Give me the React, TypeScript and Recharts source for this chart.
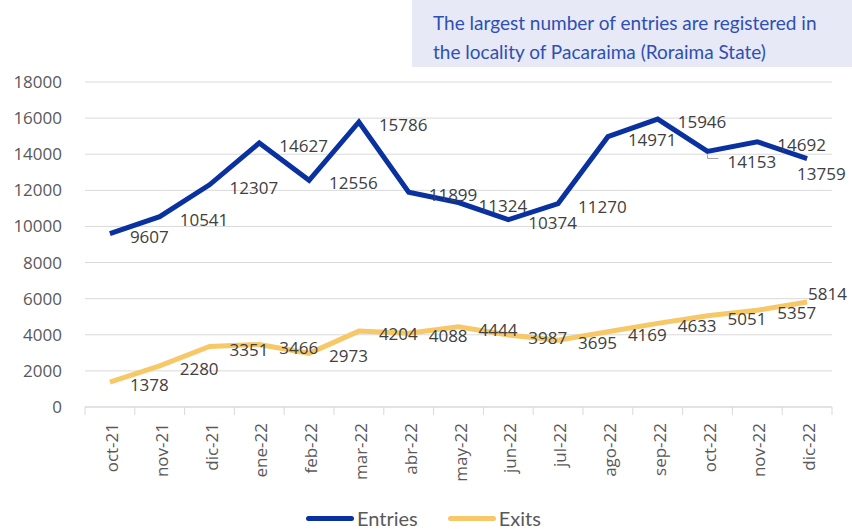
import { LineChart, Line, XAxis, YAxis, CartesianGrid, LabelList } from "recharts";

const months = [
  "oct-21", "nov-21", "dic-21", "ene-22", "feb-22", "mar-22", "abr-22", "may-22",
  "jun-22", "jul-22", "ago-22", "sep-22", "oct-22", "nov-22", "dic-22",
];
const entries = [9607, 10541, 12307, 14627, 12556, 15786, 11899, 11324, 10374, 11270, 14971, 15946, 14153, 14692, 13759];
const exits = [1378, 2280, 3351, 3466, 2973, 4204, 4088, 4444, 3987, 3695, 4169, 4633, 5051, 5357, 5814];
const yTicks = [0, 2000, 4000, 6000, 8000, 10000, 12000, 14000, 16000, 18000];
const seriesNames = ["Entries", "Exits"];
const note = ["The largest number of entries are registered in", "the locality of Pacaraima (Roraima State)"];

const BLUE = "#0a31a0";
const GOLD = "#f6c868";
const LABEL_FONT = "'Open Sans', sans-serif";
const PLOT_W = 747;
const HALF_BAND = PLOT_W / months.length / 2;

const data = months.map((m, i) => ({ month: m, entries: entries[i], exits: exits[i] }));

// a few labels were moved by hand in the original
const entryShift: Record<number, [number, number]> = { 14: [-30, 12], 12: [0, 7] };
const exitShift: Record<number, [number, number]> = { 14: [-19, -11] };

function makeLabel(shift: Record<number, [number, number]>, leader?: number) {
  return (props: any) => {
    const { x, y, value, index } = props;
    const [dx, dy] = shift[index] ?? [0, 0];
    return (
      <g>
        {leader === index && (
          <polyline
            points={`${x},${y + 3} ${x},${y + 7} ${x + 11},${y + 7}`}
            fill="none"
            stroke="#a6a6a6"
            strokeWidth={1}
          />
        )}
        <text
          x={x + 20 + dx}
          y={y + 3 + dy}
          dy="0.36em"
          textAnchor="start"
          fill="#404040"
          fontSize={17}
          fontFamily={LABEL_FONT}
        >
          {value}
        </text>
      </g>
    );
  };
}

function MonthTick(props: any) {
  const { x, y, payload, index } = props;
  return (
    <g>
      <line x1={x - HALF_BAND} x2={x - HALF_BAND} y1={y} y2={y + 8} stroke="#d9d9d9" />
      {index === months.length - 1 && (
        <line x1={x + HALF_BAND} x2={x + HALF_BAND} y1={y} y2={y + 8} stroke="#d9d9d9" />
      )}
      <text
        transform={`translate(${x + 2},${y + 16}) rotate(-90)`}
        textAnchor="end"
        dy="0.36em"
        fill="#595959"
        fontSize={17}
        fontFamily={LABEL_FONT}
      >
        {payload.value}
      </text>
    </g>
  );
}

export default function App() {
  return (
    <div style={{ position: "absolute", left: 0, top: 0, width: 852, height: 529, background: "#fff", overflow: "hidden" }}>
      <LineChart width={852} height={529} data={data} margin={{ top: 82, right: 20, bottom: 0, left: 0 }}>
        <CartesianGrid vertical={false} stroke="#d9d9d9" />
        <XAxis
          dataKey="month"
          height={122}
          interval={0}
          padding={{ left: HALF_BAND, right: HALF_BAND }}
          axisLine={{ stroke: "#d9d9d9" }}
          tickLine={false}
          tickSize={0}
          tickMargin={0}
          tick={<MonthTick />}
        />
        <YAxis
          width={85}
          domain={[0, 18000]}
          ticks={yTicks}
          axisLine={false}
          tickLine={false}
          tickSize={0}
          tickMargin={23}
          tick={{ fill: "#595959", fontSize: 17, fontFamily: LABEL_FONT }}
        />
        <Line
          dataKey="entries"
          name={seriesNames[0]}
          stroke={BLUE}
          strokeWidth={5}
          dot={false}
          type="linear"
          isAnimationActive={false}
        >
          <LabelList dataKey="entries" content={makeLabel(entryShift, 12)} />
        </Line>
        <Line
          dataKey="exits"
          name={seriesNames[1]}
          stroke={GOLD}
          strokeWidth={5}
          dot={false}
          type="linear"
          isAnimationActive={false}
        >
          <LabelList dataKey="exits" content={makeLabel(exitShift)} />
        </Line>
      </LineChart>

      <div
        style={{
          position: "absolute",
          left: 412,
          top: 0,
          width: 440,
          height: 67,
          background: "#e7e9f6",
          color: "#2f4fb3",
          fontFamily: "Lato, sans-serif",
          fontSize: 19,
          lineHeight: "29px",
          padding: "8px 0 0 21px",
          boxSizing: "border-box",
        }}
      >
        {note.map((l) => (
          <div key={l}>{l}</div>
        ))}
      </div>

      <div
        style={{
          position: "absolute",
          left: 306,
          top: 504,
          display: "flex",
          alignItems: "center",
          fontFamily: "Lato, sans-serif",
          fontSize: 20,
          lineHeight: "28px",
          color: "#595959",
        }}
      >
        {seriesNames.map((n, i) => (
          <div key={n} style={{ display: "flex", alignItems: "center", marginRight: 30 }}>
            <span
              style={{
                display: "inline-block",
                width: 48,
                height: 5,
                borderRadius: 3,
                background: i === 0 ? BLUE : GOLD,
                marginRight: 3,
              }}
            />
            <span>{n}</span>
          </div>
        ))}
      </div>
    </div>
  );
}
